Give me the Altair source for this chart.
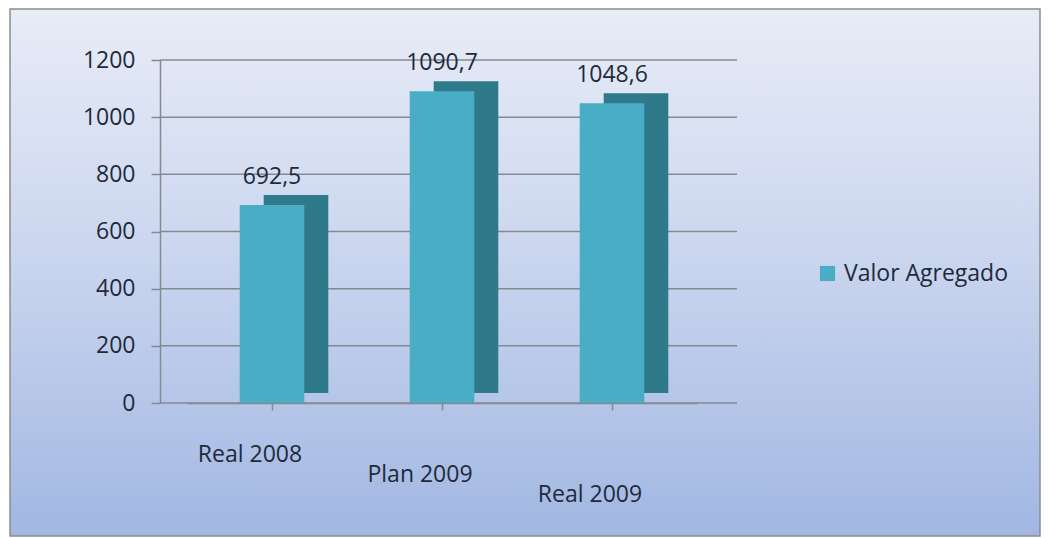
import altair as alt
import pandas as pd

categories = ["Real 2008", "Plan 2009", "Real 2009"]
values = [692.5, 1090.7, 1048.6]
series_name = "Valor Agregado"
y_ticks = [0, 200, 400, 600, 800, 1000, 1200]

df = pd.DataFrame({"cat": categories, "val": values, "serie": [series_name] * len(categories)})
grid_df = pd.DataFrame({"t": y_ticks})

FONT = "Open Sans"
FS = 23
TXT = "#1e2a3a"
FRONT = "#4aadc6"
SIDE = "#2f7a8a"
LINE = "#858a90"

W, H = 510, 343
PL, PT = 187, 60

x_scale = alt.Scale(domain=categories, paddingInner=0.62, paddingOuter=0.31)
y_scale = alt.Scale(domain=[0, 1200])

bg = alt.Chart(pd.DataFrame({"a": [0]})).mark_rect(
    fill=alt.Gradient(
        gradient="linear",
        stops=[alt.GradientStop(color="#e8ecf7", offset=0),
               alt.GradientStop(color="#c8d4ee", offset=0.5),
               alt.GradientStop(color="#a1b7e2", offset=1)],
        x1=0, x2=0, y1=0, y2=1),
    stroke="#8c8c8c", strokeWidth=1.5
).encode(
    x=alt.value(10 - PL), x2=alt.value(1040 - PL),
    y=alt.value(9 - PT), y2=alt.value(536 - PT)
)

grid = alt.Chart(grid_df).mark_rule(color=LINE, strokeWidth=1.5).encode(
    y=alt.Y("t:Q", scale=y_scale),
    x=alt.value(-27), x2=alt.value(W + 40),
)

base = alt.Chart(df)

axes = base.mark_bar(opacity=0).encode(
    x=alt.X("cat:N", scale=x_scale, sort=categories, title=None,
            axis=alt.Axis(labels=False, zindex=1,
                          domainColor=LINE, domainWidth=1.5, tickColor=LINE,
                          tickSize=7, tickWidth=1.5)),
    y=alt.Y("val:Q", scale=y_scale, title=None,
            axis=alt.Axis(values=y_ticks, format="d", labelFont=FONT, labelFontSize=FS,
                          labelColor=TXT, labelPadding=16, offset=27, grid=False, zindex=1,
                          domainColor=LINE, domainWidth=1.5,
                          tickColor=LINE, tickSize=9, tickWidth=1.5)),
)

back = base.mark_bar(color=SIDE, xOffset=24, yOffset=-10).encode(
    x=alt.X("cat:N", scale=x_scale, sort=categories),
    y=alt.Y("val:Q", scale=y_scale),
)

front = base.mark_bar().encode(
    x=alt.X("cat:N", scale=x_scale, sort=categories),
    y=alt.Y("val:Q", scale=y_scale),
    color=alt.Color("serie:N", scale=alt.Scale(domain=[series_name], range=[FRONT]),
                    legend=alt.Legend(title=None, orient="none", legendX=816 - PL, legendY=262 - PT,
                                      symbolType="square", symbolSize=230, symbolStrokeWidth=0,
                                      labelFont=FONT, labelFontSize=FS, labelColor=TXT,
                                      labelOffset=5, labelLimit=400)),
)

labels = base.transform_calculate(
    lab="replace(format(datum.val, '.1f'), '.', ',')"
).mark_text(font=FONT, fontSize=FS, color=TXT, baseline="middle", dy=-28).encode(
    x=alt.X("cat:N", scale=x_scale, sort=categories),
    y=alt.Y("val:Q", scale=y_scale),
    text="lab:N",
)

xlabel_layers = []
for i, c in enumerate(categories):
    xlabel_layers.append(
        base.transform_filter(alt.datum.cat == c).mark_text(
            font=FONT, fontSize=FS, color=TXT, baseline="middle", dx=-22, dy=52 + 20 * i
        ).encode(
            x=alt.X("cat:N", scale=x_scale, sort=categories),
            y=alt.value(H),
            text="cat:N",
        )
    )

chart = alt.layer(bg, grid, axes, back, front, labels, *xlabel_layers).properties(
    width=W, height=H,
    autosize=alt.AutoSizeParams(type="none"),
    padding={"left": PL, "top": PT, "right": 1048 - PL - W, "bottom": 538 - PT - H},
    background="white",
).configure_view(stroke=None)

chart.save("out.html", embed_options={"renderer": "svg", "actions": False})
